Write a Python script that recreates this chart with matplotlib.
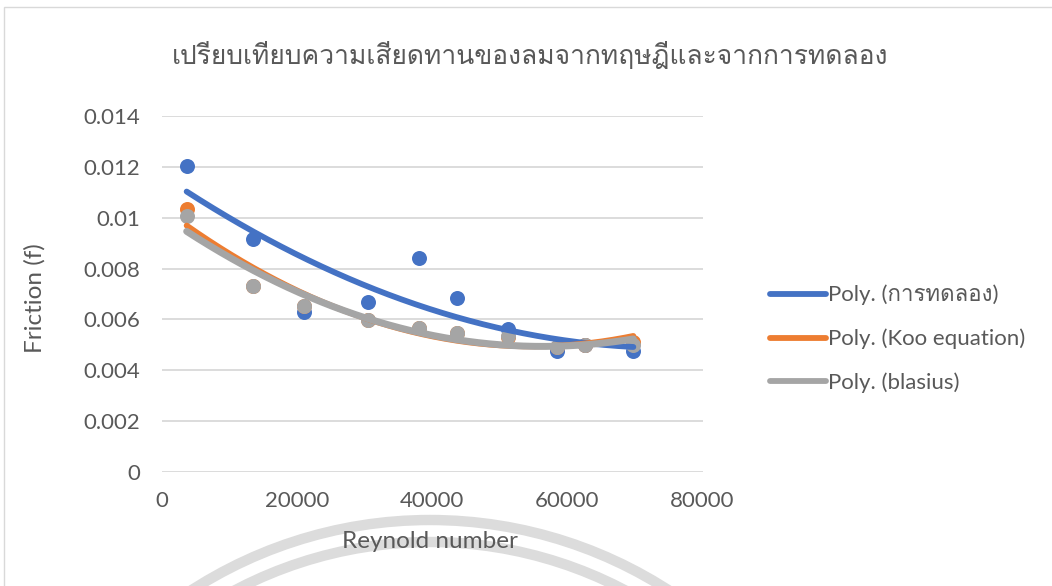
import matplotlib
matplotlib.use("Agg")
import matplotlib.pyplot as plt
import numpy as np
from matplotlib import font_manager
from matplotlib.ft2font import FT2Font
from matplotlib.patches import Arc, Rectangle
from matplotlib.lines import Line2D

# Reynolds number of each run
reynolds = [3650, 13500, 21000, 30500, 38100, 43700, 51250, 58400, 62600, 69750]

# Friction factor: measured, Koo equation, Blasius
f_experiment = [0.01205, 0.00917, 0.00631, 0.00670, 0.00843,
                0.00684, 0.00563, 0.00474, 0.00500, 0.00474]
f_koo = [0.01035, 0.00732, 0.00654, 0.00598, 0.00567,
         0.00547, 0.00531, 0.00492, 0.00500, 0.00512]
f_blasius = [0.01005, 0.00732, 0.00654, 0.00598, 0.00566,
             0.00546, 0.00533, 0.00492, 0.00500, 0.00498]

series_labels = ["Poly. (การทดลอง)", "Poly. (Koo equation)", "Poly. (blasius)"]
series_colors = ["#4472C4", "#ED7D31", "#A5A5A5"]
title_text = "เปรียบเทียบความเสียดทานของลมจากทฤษฎีและจากการทดลอง"
y_ticks = [0, 0.002, 0.004, 0.006, 0.008, 0.01, 0.012, 0.014]
y_tick_labels = ["0", "0.002", "0.004", "0.006", "0.008", "0.01", "0.012", "0.014"]
x_ticks = [0, 20000, 40000, 60000, 80000]

TEXT = "#595959"
GRID = "#D9D9D9"


def find_thai_font():
    # pick the first installed face that has Thai glyphs
    for entry in font_manager.fontManager.ttflist:
        try:
            if 0x0E01 in FT2Font(entry.fname).get_charmap():
                return entry.name
        except Exception:
            continue
    return "DejaVu Sans"


thai = find_thai_font()
latin = ["Lato", thai, "DejaVu Sans"]

fig = plt.figure(figsize=(10.52, 5.86), dpi=100)
fig.set_facecolor("white")

# chart frame and faint circular stamp behind it
fig.patches.append(Rectangle((4 / 1052, -0.05), 1.2, (586 - 7) / 586 + 0.05,
                             transform=fig.transFigure, fill=False,
                             edgecolor="#D9D9D9", linewidth=1.0, zorder=0))
for r in (440, 418):
    fig.patches.append(Arc((430 / 1052, 1 - 960 / 586), 2 * r / 1052, 2 * r / 586,
                           transform=fig.transFigure, theta1=30, theta2=150,
                           edgecolor="#DCDCDC", linewidth=7.5, zorder=0))

ax = fig.add_axes([162 / 1052, 1 - 472 / 586, (702.6 - 162) / 1052, (472 - 116) / 586])
ax.set_facecolor("none")

all_series = [f_experiment, f_koo, f_blasius]
xs = np.array(reynolds, dtype=float)

# data points first, trendlines drawn over them
for vals, color in zip(all_series, series_colors):
    ax.plot(xs, vals, "o", color=color, markersize=10.8, markeredgewidth=0, zorder=3)

xfit = np.linspace(xs.min(), xs.max(), 200)
for vals, color, label in zip(all_series, series_colors, series_labels):
    coef = np.polyfit(xs, vals, 2)
    lw = 5.0 if color == "#A5A5A5" else 4.2
    ax.plot(xfit, np.polyval(coef, xfit), color=color, linewidth=lw,
            solid_capstyle="round", label=label, zorder=4)

ax.set_xlim(0, 80000)
ax.set_ylim(0, 0.014)
ax.set_xticks(x_ticks)
ax.set_xticklabels([str(t) for t in x_ticks])
ax.set_yticks(y_ticks)
ax.set_yticklabels(y_tick_labels)
ax.grid(axis="y", color=GRID, linewidth=1.3, zorder=0)
ax.tick_params(length=0, colors=TEXT, labelsize=16)
ax.tick_params(axis="x", pad=14)
ax.tick_params(axis="y", pad=16)
for lab in ax.get_xticklabels() + ax.get_yticklabels():
    lab.set_family(latin)
for side in ("top", "right", "left", "bottom"):
    ax.spines[side].set_visible(False)

fig.text(430 / 1052, 1 - 542 / 586, "Reynold number", ha="center", va="center",
         color=TEXT, fontsize=17.5, family=latin)
fig.text(35 / 1052, 1 - 298 / 586, "Friction (f)", ha="center", va="center",
         rotation=90, color=TEXT, fontsize=17.5, family=latin)
fig.text(530 / 1052, 1 - 55 / 586, title_text, ha="center", va="center",
         color=TEXT, fontsize=19, family=[thai, "DejaVu Sans"])

handles = [Line2D([], [], color=c, linewidth=4.2, solid_capstyle="round") for c in series_colors]
fig.legend(handles, series_labels, loc="center left",
           bbox_to_anchor=(770 / 1052, 1 - 339 / 586), frameon=False,
           borderpad=0, borderaxespad=0, handlelength=2.5, handletextpad=0.1,
           labelspacing=1.05, labelcolor=TEXT,
           prop=font_manager.FontProperties(family=latin, size=16))

fig.savefig("out.png", dpi=100)
